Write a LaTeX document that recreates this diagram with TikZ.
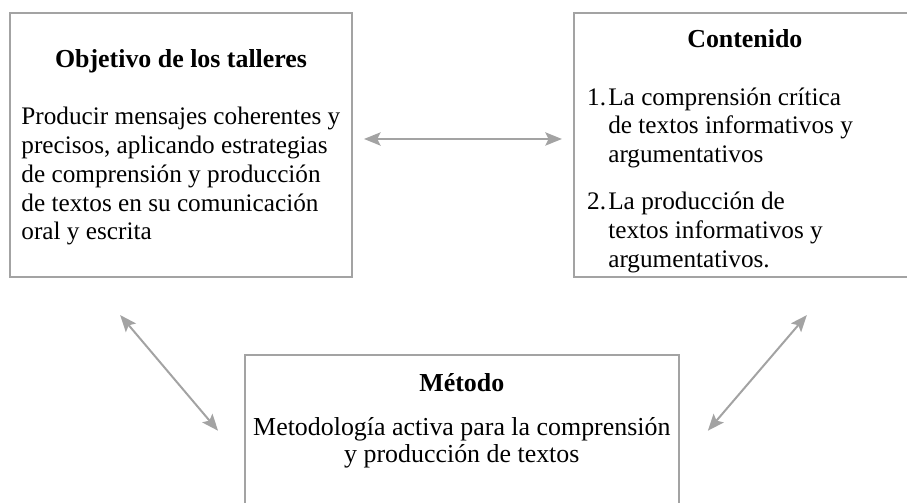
\documentclass[tikz,border=0pt]{standalone}
\usepackage{fontspec}
\setmainfont{Liberation Serif}
\usetikzlibrary{arrows.meta,positioning}
\definecolor{framegray}{RGB}{163,163,163}
\tikzstyle{panel} = [rectangle, minimum width=9.05cm, minimum height=6.99cm, draw=framegray, line width=1.5pt]
\tikzstyle{heading} = [font=\fontsize{19.5}{21.75}\selectfont\bfseries, anchor=base, inner sep=0pt]
\tikzstyle{body} = [font=\fontsize{19}{21.75}\selectfont, align=left, anchor=base west, inner sep=0pt]
\tikzstyle{arrow} = [line width=1.5pt, {Stealth[length=12.5pt,width=10pt,inset=2.5pt]}-{Stealth[length=12.5pt,width=10pt,inset=2.5pt]}, color=framegray]

\begin{document}
\begin{tikzpicture}
\useasboundingbox (0,0) rectangle (24,13.308);
\clip (0,0) rectangle (24,13.308);

% Three boxes
\node[panel] (goal) at (4.79,9.47) {};
\node[panel] (content) at (19.71,9.47) {};
\node[panel, minimum width=11.48cm, minimum height=4.6cm] (method) at (12.22,1.62) {};

% Titles
\node[heading] (goaltitle) at (4.79,11.51) {Objetivo de los talleres};
\node[heading] (contenttitle) at (19.71,12.04) {Contenido};
\node[heading] (methodtitle) at (12.22,2.94) {Método};

% Texts (base = last line)
\node[body] (goaltext) at (0.56,6.96) {Producir mensajes coherentes y\\precisos, aplicando estrategias\\de comprensión y producción\\de textos en su comunicación\\oral y escrita};
\node[body] (item1) at (15.53,9.00) {\makebox[0.56cm][l]{1.}La comprensión crítica\\\hspace*{0.56cm}de textos informativos y\\\hspace*{0.56cm}argumentativos};
\node[body] (item2) at (15.53,6.24) {\makebox[0.56cm][l]{2.}La producción de\\\hspace*{0.56cm}textos informativos y\\\hspace*{0.56cm}argumentativos.};
\node[body, align=center, anchor=base, font=\fontsize{19.5}{20}\selectfont] (methodtext) at (12.22,1.07) {Metodología activa para la comprensión\\y producción de textos};

% Arrows
\coordinate (goalfoot) at (3.18,4.97);
\coordinate (methodleft) at (5.77,1.91);
\coordinate (contentfoot) at (21.35,4.97);
\coordinate (methodright) at (18.73,1.91);
\draw[arrow, shorten <=0.29cm, shorten >=0.29cm] ([yshift=0.16cm]goal.east) -- ([yshift=0.16cm]content.west);
\draw[arrow] (goalfoot) -- (methodleft);
\draw[arrow] (contentfoot) -- (methodright);
\end{tikzpicture}
\end{document}
